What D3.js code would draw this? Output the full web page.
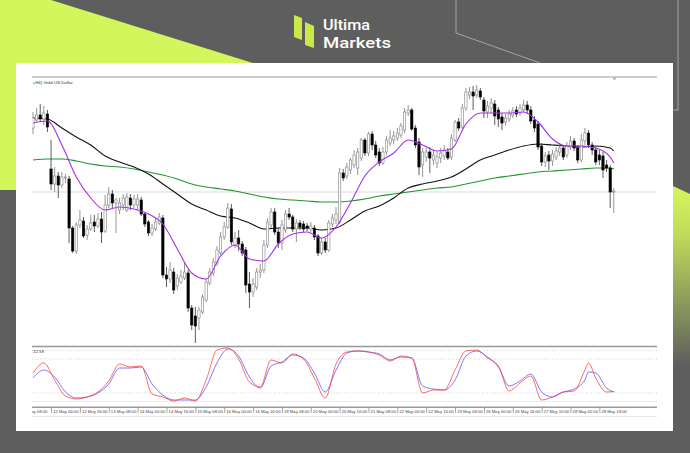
<!DOCTYPE html>
<html><head><meta charset="utf-8">
<script src="https://cdn.jsdelivr.net/npm/d3@7"></script>
<style>html,body{margin:0;padding:0;background:#5e5e5e;overflow:hidden}</style>
</head><body>
<svg id="c" width="690" height="453"></svg>
<script>
// ---------- DATA ----------
const opens=[3332,3340,3345,3341,3346,3291,3276,3284,3275,3282,3281,3232,3209,3235,3239,3225,3231,3238,3234,3241,3229,3255,3266,3257,3250,3255,3250,3262,3255,3255,3260,3246,3238,3227,3231,3237,3242,3185,3181,3188,3174,3178,3182,3187,3152,3144,3142,3148,3160,3177,3187,3197,3207,3223,3233,3251,3215,3222,3216,3210,3176,3168,3173,3188,3190,3215,3235,3248,3228,3217,3230,3246,3243,3231,3237,3236,3234,3231,3232,3224,3207,3218,3210,3236,3240,3238,3287,3284,3290,3295,3292,3302,3320,3307,3326,3315,3308,3297,3308,3317,3320,3322,3325,3330,3347,3350,3332,3318,3295,3303,3308,3300,3297,3302,3304,3308,3303,3320,3338,3333,3352,3365,3368,3365,3369,3360,3348,3352,3356,3350,3343,3338,3341,3345,3350,3347,3350,3355,3350,3340,3336,3314,3298,3305,3299,3303,3308,3312,3305,3313,3319,3312,3300,3319,3327,3315,3310,3305,3304,3295,3292,3268];
const highs=[3348,3352,3356,3354,3350,3320,3293,3288,3288,3286,3284,3234,3238,3250,3243,3235,3245,3245,3247,3248,3265,3273,3270,3262,3262,3266,3267,3266,3265,3266,3263,3248,3240,3236,3242,3247,3245,3193,3198,3192,3186,3190,3198,3190,3155,3153,3153,3166,3181,3192,3202,3214,3228,3238,3257,3256,3228,3230,3219,3213,3188,3182,3192,3196,3220,3242,3252,3252,3232,3240,3250,3252,3245,3241,3240,3239,3237,3238,3235,3226,3222,3222,3240,3246,3253,3292,3291,3297,3302,3310,3312,3322,3322,3328,3329,3319,3312,3313,3324,3330,3329,3332,3337,3352,3355,3352,3335,3322,3312,3312,3313,3310,3308,3312,3315,3312,3326,3340,3342,3356,3372,3373,3374,3375,3372,3363,3359,3362,3360,3353,3347,3346,3350,3353,3354,3356,3360,3359,3354,3344,3339,3317,3308,3309,3310,3313,3317,3315,3318,3324,3322,3315,3326,3332,3330,3318,3313,3310,3308,3300,3295,3272];
const lows=[3326,3337,3338,3335,3328,3270,3268,3262,3272,3277,3217,3207,3206,3232,3222,3220,3229,3228,3232,3217,3227,3252,3252,3227,3246,3250,3248,3250,3252,3250,3244,3233,3224,3224,3229,3235,3182,3173,3177,3166,3170,3176,3180,3148,3130,3117,3130,3146,3158,3175,3184,3194,3205,3220,3231,3215,3212,3209,3204,3167,3152,3163,3170,3182,3187,3212,3232,3225,3212,3210,3227,3240,3228,3218,3230,3228,3229,3228,3220,3204,3205,3207,3208,3233,3236,3236,3279,3281,3286,3292,3285,3299,3304,3304,3310,3302,3294,3295,3305,3314,3316,3319,3322,3327,3344,3329,3312,3285,3283,3298,3287,3295,3292,3297,3300,3300,3300,3318,3329,3330,3349,3361,3350,3362,3360,3342,3342,3347,3335,3333,3330,3334,3338,3342,3343,3344,3348,3346,3336,3328,3310,3294,3293,3290,3294,3300,3304,3300,3302,3310,3309,3297,3298,3315,3312,3305,3295,3295,3282,3288,3252,3247];
const closes=[3342,3345,3341,3347,3333,3276,3284,3275,3283,3283,3232,3209,3235,3240,3224,3231,3237,3234,3241,3228,3255,3266,3257,3260,3257,3262,3263,3255,3261,3261,3246,3236,3227,3232,3238,3243,3185,3181,3190,3170,3182,3184,3188,3152,3135,3134,3150,3163,3178,3188,3198,3210,3223,3233,3252,3218,3222,3216,3207,3175,3168,3176,3188,3190,3215,3238,3248,3228,3217,3235,3246,3243,3231,3237,3233,3231,3232,3234,3223,3207,3218,3210,3237,3242,3246,3287,3282,3293,3300,3305,3308,3320,3307,3326,3315,3305,3297,3308,3320,3322,3324,3327,3334,3348,3350,3331,3315,3293,3308,3308,3302,3305,3303,3307,3310,3302,3322,3338,3332,3352,3368,3368,3364,3370,3363,3349,3354,3357,3344,3341,3337,3342,3346,3349,3346,3352,3355,3350,3339,3332,3313,3298,3304,3299,3306,3309,3312,3303,3314,3319,3312,3300,3320,3327,3315,3310,3298,3300,3290,3292,3268,3269];

// moving averages (bar index -> value)
const maIdx=[0,4,8,12,16,20,24,28,32,36,40,44,48,52,56,60,64,68,72,76,80,84,88,92,96,100,104,108,112,116,120,124,128,132,136,140,144,148,152,156,160,161];
const maFast=[3337,3339,3315,3283,3262,3250,3253,3251,3246,3236,3211,3187,3181,3204,3215,3201,3199,3216,3226,3228,3222,3233,3257,3284,3298,3307,3320,3315,3309,3311,3336,3347,3347,3347,3348,3338,3321,3314,3314,3312,3303,3297];
const maMid=[3342,3341,3332,3323,3315,3304,3298,3293,3286,3276,3266,3256,3250,3244,3242,3237,3231,3232,3232,3232,3230,3232,3240,3249,3254,3262,3272,3276,3279,3283,3291,3300,3305,3310,3314,3316,3315,3314,3313,3314,3312,3309];
const maSlow=[3300,3301,3301,3299,3296,3294,3293,3291,3288,3285,3281,3276,3273,3271,3269,3266,3263,3261,3260,3259,3258,3258,3259,3261,3264,3266,3268,3270,3272,3273,3276,3279,3282,3284,3286,3288,3289,3290,3291,3292,3292,3291];
const bidPrice=3268;

// stochastic oscillator
const stochIdx=[0,3,6,9,12,15,18,21,24,27,30,33,36,39,42,45,48,51,54,57,60,63,66,69,72,75,78,81,84,87,90,93,96,99,102,105,108,111,114,117,120,123,126,129,132,135,138,141,144,147,150,153,154,156,159,161];
const stochK=[55.3,73.0,42.9,14.7,9.4,12.9,21.7,41.2,71.2,65.9,67.7,18.2,12.9,5.8,11.1,5.8,42.9,95.9,99.5,80.0,39.4,30.6,78.3,73.0,88.9,80.0,46.5,11.1,71.2,92.4,94.2,92.4,87.1,76.5,85.3,81.8,20.0,25.3,25.3,60.6,94.2,95.9,81.8,67.7,23.5,37.6,50.0,7.6,12.9,21.7,23.5,60.6,73.0,46.5,21.7,22.6];
const stochD=[46.5,60.6,48.2,21.7,11.1,12.9,20.0,35.9,64.1,64.1,65.9,35.9,16.4,7.6,7.6,7.6,30.6,73.0,97.7,85.3,48.2,28.8,67.7,74.7,87.1,81.8,55.3,21.7,60.6,90.6,94.2,92.4,88.9,78.3,83.6,81.8,32.3,27.0,25.3,42.9,85.3,94.2,83.6,65.9,32.3,41.2,53.5,21.7,12.9,21.7,27.0,42.9,57.1,55.3,28.8,21.7];
const stochLevels=[95,80,20,5];
const stochValueText="22.59";

const timeLabels=["9 May 08:00","12 May 00:00","12 May 16:00","13 May 08:00","14 May 00:00","14 May 16:00","15 May 08:00","16 May 00:00","16 May 16:00","19 May 08:00","20 May 00:00","20 May 16:00","21 May 08:00","22 May 00:00","22 May 16:00","23 May 08:00","26 May 00:00","26 May 16:00","27 May 10:00","28 May 02:00","28 May 18:00"];
const symbolTitle="ι,H4)  Gold US Dollar";
const brandLines=["Ultima","Markets"];

// ---------- DRAW ----------
const svg=d3.select("#c");
const defs=svg.append("defs");
const LIME="#d3f65d";

svg.append("rect").attr("width",690).attr("height",453).attr("fill","#5e5e5e");
svg.append("polygon").attr("points","0,0 51,0 320,84 16,190 0,190").attr("fill",LIME);
const g1=defs.append("linearGradient").attr("id","rg").attr("x1",0).attr("y1",0).attr("x2",0).attr("y2",1);
g1.append("stop").attr("offset","0%").attr("stop-color",LIME);
g1.append("stop").attr("offset","25%").attr("stop-color","#c2de5a");
g1.append("stop").attr("offset","100%").attr("stop-color","#5e5e5e");
svg.append("polygon").attr("points","673,186 690,194 690,365 673,365").attr("fill","url(#rg)");
svg.append("path").attr("d","M456,0 L456,33 L540,63").attr("fill","none").attr("stroke","#b8b8b8").attr("stroke-width",0.8);
svg.append("path").attr("d","M678,0 L678,110 L673,110").attr("fill","none").attr("stroke","#b8b8b8").attr("stroke-width",0.8);

// logo
svg.append("polygon").attr("points","294,15 302,18 302,40 294,37").attr("fill","#c8e94c");
svg.append("polygon").attr("points","305,22 314,26 314,48 305,45").attr("fill","#c8e94c");
svg.append("text").attr("x",323).attr("y",30).text(brandLines[0]).attr("fill","#fff")
  .attr("font-family","Roboto, Inter, sans-serif").attr("font-size",14.5).attr("font-weight",500)
  .attr("textLength",47).attr("lengthAdjust","spacingAndGlyphs");
svg.append("text").attr("x",323).attr("y",47.5).text(brandLines[1]).attr("fill","#fff")
  .attr("font-family","Roboto, Inter, sans-serif").attr("font-size",14.5).attr("font-weight",500)
  .attr("textLength",68).attr("lengthAdjust","spacingAndGlyphs");

// panel
svg.append("rect").attr("x",16).attr("y",63).attr("width",657).attr("height",368).attr("fill","#fff");

const N=closes.length;
const x=d3.scaleLinear().domain([-0.5,N-0.5]).range([31.2,615.6]);
const y=d3.scaleLinear().domain([3383,3115]).range([77,345]);
const ys=d3.scaleLinear().domain([0,100]).range([404.3,347.7]);
const X0=32, X1=657;

defs.append("clipPath").attr("id","cm").append("rect").attr("x",X0).attr("y",77).attr("width",X1-X0).attr("height",268);
defs.append("clipPath").attr("id","cs").append("rect").attr("x",X0).attr("y",347).attr("width",X1-X0).attr("height",60);
defs.append("clipPath").attr("id","ca").append("rect").attr("x",X0).attr("y",405).attr("width",X1-X0).attr("height",15);

// frame lines
svg.append("line").attr("x1",X0).attr("x2",X1).attr("y1",77).attr("y2",77).attr("stroke","#9a9a9a").attr("stroke-width",1);
svg.append("line").attr("x1",X0).attr("x2",X1).attr("y1",y(bidPrice)).attr("y2",y(bidPrice)).attr("stroke","#d4d4d4").attr("stroke-width",0.9);
svg.append("line").attr("x1",X0).attr("x2",X1).attr("y1",346.5).attr("y2",346.5).attr("stroke","#999").attr("stroke-width",1.6);
svg.append("line").attr("x1",X0).attr("x2",X1).attr("y1",407.3).attr("y2",407.3).attr("stroke","#9a9a9a").attr("stroke-width",1.6);
svg.append("line").attr("x1",X0).attr("x2",X1).attr("y1",416.5).attr("y2",416.5).attr("stroke","#e2e2e2").attr("stroke-width",0.8);
svg.append("path").attr("d","M612.5,77.5 L616.5,77.5 L614.5,80.5 Z").attr("fill","#aaa");

svg.append("text").attr("x",33).attr("y",83.6).text(symbolTitle).attr("fill","#333")
  .attr("font-family","Liberation Sans, Arial, sans-serif").attr("font-size",4.4);

// main
const main=svg.append("g").attr("clip-path","url(#cm)");
const lineGen=(vals)=>d3.line().x((d,i)=>x(maIdx[i])).y(d=>y(d)).curve(d3.curveMonotoneX)(vals);
main.append("path").attr("d",lineGen(maSlow)).attr("fill","none").attr("stroke","#22952a").attr("stroke-width",1.1);
main.append("path").attr("d",lineGen(maMid)).attr("fill","none").attr("stroke","#111").attr("stroke-width",1.1);

const bw=2.3;
const cg=main.append("g");
d3.range(N).forEach(i=>{
  const up=closes[i]>=opens[i];
  const cx=x(i);
  cg.append("line").attr("x1",cx).attr("x2",cx).attr("y1",y(highs[i])).attr("y2",y(lows[i]))
    .attr("stroke",up?"#7a7a7a":"#333").attr("stroke-width",0.8);
  const top=y(Math.max(opens[i],closes[i])), bot=y(Math.min(opens[i],closes[i]));
  cg.append("rect").attr("x",cx-bw/2).attr("y",top).attr("width",bw).attr("height",Math.max(0.8,bot-top))
    .attr("fill",up?"#fff":"#000").attr("stroke",up?"#808080":"#000").attr("stroke-width",0.6);
});
main.append("path").attr("d",lineGen(maFast)).attr("fill","none").attr("stroke","#a42fe6").attr("stroke-width",1.1);

// stochastic
const sub=svg.append("g").attr("clip-path","url(#cs)");
stochLevels.forEach(v=>{
  sub.append("line").attr("x1",X0).attr("x2",X1).attr("y1",ys(v)).attr("y2",ys(v))
    .attr("stroke","#bdbdbd").attr("stroke-width",0.7).attr("stroke-dasharray","1,1.6");
});
const sl=(vals)=>d3.line().x((d,i)=>x(stochIdx[i])).y(d=>ys(d)).curve(d3.curveMonotoneX)(vals);
sub.append("path").attr("d",sl(stochD)).attr("fill","none").attr("stroke","#5a5aff").attr("stroke-width",0.9).attr("opacity",0.9);
sub.append("path").attr("d",sl(stochK)).attr("fill","none").attr("stroke","#ff3a3a").attr("stroke-width",0.9).attr("opacity",0.85);
svg.append("text").attr("x",33).attr("y",352.6).text(stochValueText).attr("fill","#333")
  .attr("font-family","Liberation Sans, Arial, sans-serif").attr("font-size",4.4);

// time axis
const labelIdx=timeLabels.map((d,k)=>-3+8*k);
const ax=d3.axisBottom(x).tickValues(labelIdx).tickFormat((d,i)=>timeLabels[i]).tickSize(5).tickPadding(0);
const axg=svg.append("g").attr("clip-path","url(#ca)").append("g").attr("transform","translate(0,407.8)").call(ax);
axg.select(".domain").remove();
axg.selectAll(".tick line").attr("stroke","#666").attr("stroke-width",0.6);
axg.selectAll(".tick text").attr("text-anchor","start").attr("x",1.6).attr("y",5.3).attr("dy",0)
  .attr("fill","#444").attr("font-family","Liberation Sans, Arial, sans-serif").attr("font-size",4.2);
</script>
</body></html>
